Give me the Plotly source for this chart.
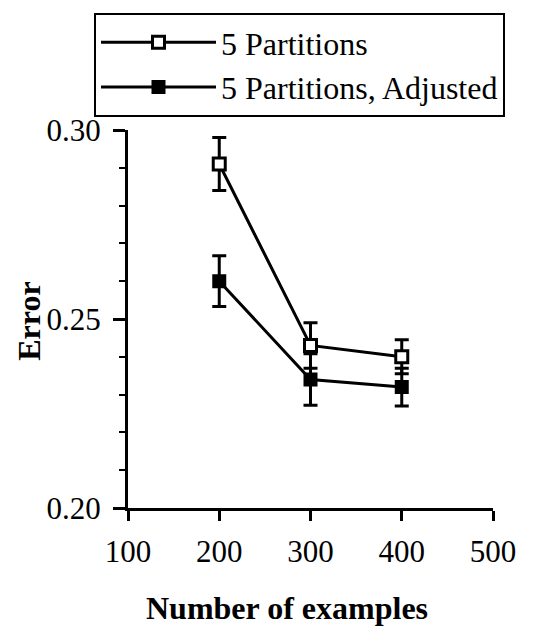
import plotly.graph_objects as go

examples = [200, 300, 400]
err_plain = [0.291, 0.243, 0.240]
err_plain_sd = [0.007, 0.006, 0.0045]
err_adj = [0.260, 0.234, 0.232]
err_adj_sd = [0.0067, 0.0068, 0.005]
names = ["5 Partitions", "5 Partitions, Adjusted"]
x_title = "Number of examples"
y_title = "Error"

font = "Liberation Serif"
fig = go.Figure()
fig.add_trace(go.Scatter(
    x=examples, y=err_plain, name=names[0], mode="lines+markers",
    line=dict(color="black", width=3),
    marker=dict(symbol="square", size=12, color="white", line=dict(color="black", width=3)),
    error_y=dict(type="data", array=err_plain_sd, color="black", thickness=3, width=7),
))
fig.add_trace(go.Scatter(
    x=examples, y=err_adj, name=names[1], mode="lines+markers",
    line=dict(color="black", width=3),
    marker=dict(symbol="square", size=12, color="black", line=dict(color="black", width=2)),
    error_y=dict(type="data", array=err_adj_sd, color="black", thickness=3, width=7),
))

fig.update_layout(
    width=535, height=630,
    margin=dict(l=120, r=50, t=122, b=130, autoexpand=False),
    paper_bgcolor="white", plot_bgcolor="white",
    font=dict(family=font, color="black", size=31),
    showlegend=True,
    legend=dict(
        xref="container", yref="container",
        x=86 / 535, y=1 - 5 / 630, xanchor="left", yanchor="top",
        bordercolor="black", borderwidth=2,
        font=dict(family=font, size=32, color="black"),
        itemwidth=115, tracegroupgap=0,
    ),
    xaxis=dict(
        range=[100, 500], tickvals=[100, 200, 300, 400, 500],
        showline=True, linecolor="black", linewidth=3,
        ticks="outside", ticklen=10, tickwidth=3, tickcolor="black",
        showgrid=False, zeroline=False, ticklabelstandoff=4,
        tickfont=dict(family=font, size=31),
    ),
    yaxis=dict(
        range=[0.20, 0.30], tickvals=[0.20, 0.25, 0.30], ticktext=["0.20", "0.25", "0.30"],
        showline=True, linecolor="black", linewidth=3,
        ticks="outside", ticklen=12, tickwidth=3, tickcolor="black",
        minor=dict(dtick=0.01, ticks="outside", ticklen=6, tickwidth=2, tickcolor="black", showgrid=False),
        showgrid=False, zeroline=False, ticklabelstandoff=6,
        tickfont=dict(family=font, size=31),
    ),
    annotations=[
        dict(text="<b>" + x_title + "</b>", xref="paper", yref="paper",
             x=0.4356, y=-0.2646, xanchor="center", yanchor="middle",
             showarrow=False, font=dict(family=font, size=32, color="black")),
        dict(text="<b>" + y_title + "</b>", xref="paper", yref="paper",
             x=-0.272, y=0.4947, xanchor="center", yanchor="middle", textangle=-90,
             showarrow=False, font=dict(family=font, size=32, color="black")),
    ],
)

fig.write_html("out.html")
